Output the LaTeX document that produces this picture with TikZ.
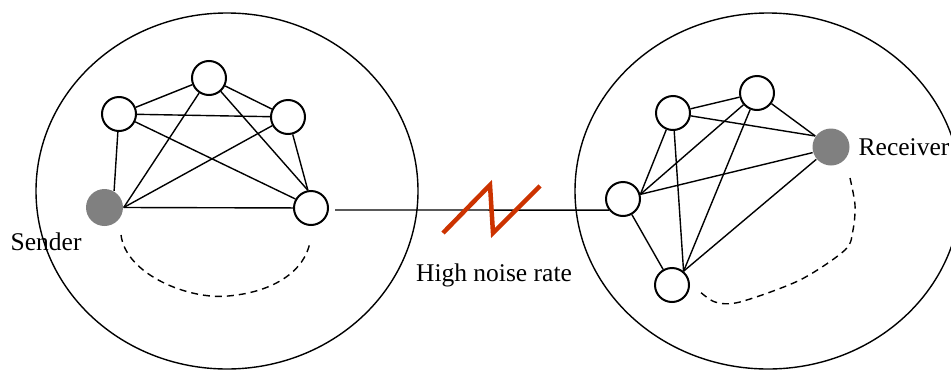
\documentclass[tikz,border=0pt]{standalone}
\usepackage{fontspec}
\setmainfont{Liberation Serif}
\definecolor{noisered}{HTML}{CC3300}
\definecolor{endgray}{HTML}{808080}

\begin{document}
\begin{tikzpicture}[x=1pt,y=-1pt,line width=1.4pt,
  host/.style={circle,draw,line width=2pt,minimum size=34pt,inner sep=0pt},
  endhost/.style={circle,fill=endgray,minimum size=37pt,inner sep=0pt},
  route/.style={line width=1.4pt,dash pattern=on 7pt off 5pt},
  lbl/.style={font=\fontsize{25.5}{28}\selectfont,inner sep=0pt}]
  \useasboundingbox (0,0) rectangle (951,370);

  % the two networks
  \draw (227,191) ellipse [x radius=191, y radius=178];
  \draw (768,191) ellipse [x radius=193, y radius=178];

  % left network
  \node[host] (a) at (209,78) {};
  \node[host] (b) at (119,114) {};
  \node[host] (c) at (288,117) {};
  \node[host] (d) at (311,208) {};
  \node[endhost] (sender) at (104.5,207.5) {};
  \node[lbl,anchor=west] (senderlbl) at (10,242) {Sender};

  \draw (b) -- (a);
  \draw (a) -- (c);
  \draw (b) -- (c);
  \draw (b) -- (d.150);
  \draw (a) -- (sender.east);
  \draw (a) -- (d.100);
  \draw (c) -- (sender.east);
  \draw (c) -- (d.100);
  \draw (b) -- (sender.60);
  \draw (sender.east) -- (d);

  % right network
  \node[host] (e) at (623,199) {};
  \node[host] (f) at (673,113) {};
  \node[host] (g) at (757,93) {};
  \node[host] (h) at (672,285) {};
  \node[endhost] (receiver) at (831,147) {};
  \node[lbl,anchor=west] (receiverlbl) at (858,147) {Receiver};

  \draw (f) -- (g);
  \draw (f) -- (receiver.145);
  \draw (g) -- (receiver.145);
  \draw (e.15) -- (f);
  \draw (e.15) -- (g);
  \draw (e.15) -- (receiver.197);
  \draw (e) -- (h);
  \draw (f) -- (h.50);
  \draw (g) -- (h.50);
  \draw (h.50) -- (receiver.220);

  % noisy link
  \draw ([shift={(6,2)}]d.east) -- (e.218);
  \draw[noisered,line width=4.5pt] (443,233) -- (490,185) -- (493,233) -- (540,186);
  \node[lbl] (noise) at (494,275) {High noise rate};

  % routes
  \coordinate (s1) at (121,235);
  \coordinate (s2) at (310,242);
  \draw[route] (s1) .. controls (126,275) and (190,300) .. (228,296)
    .. controls (275,292) and (305,270) .. (s2);
  \coordinate (r1) at (850,178);
  \coordinate (r2) at (698,290);
  \draw[route] plot[smooth] coordinates {(r1) (855,205) (853,230) (845,250)
    (800,280) (740,302) (715,302) (r2)};
\end{tikzpicture}
\end{document}
